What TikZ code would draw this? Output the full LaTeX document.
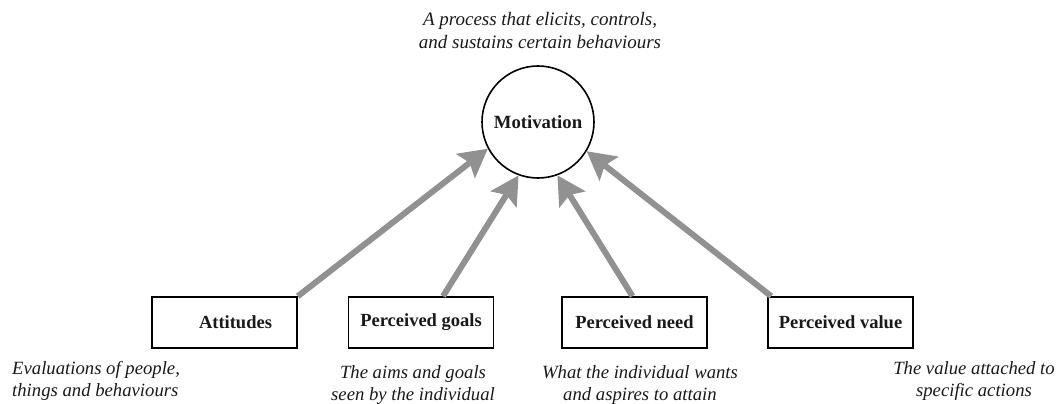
\documentclass[tikz,border=0pt]{standalone}
\usepackage{fontspec}
\setmainfont{Liberation Serif}
\usetikzlibrary{arrows.meta,calc}
\definecolor{arrowgray}{RGB}{145,145,145}
\definecolor{txt}{RGB}{25,25,25}
\begin{document}
\begin{tikzpicture}[x=1pt,y=-1pt,
  box/.style={draw=black,line width=1.6pt,minimum width=145pt,minimum height=51pt,inner sep=0pt,font=\bfseries\fontsize{18.5}{21}\selectfont,text=txt},
  desc/.style={font=\itshape\fontsize{18.7}{22}\selectfont,text=txt,inner sep=0pt},
  infl/.style={draw=arrowgray,line width=6pt,-{Stealth[length=28pt,width=30pt,inset=5pt]}}]
\useasboundingbox (0,0) rectangle (1060,404);
\node[desc,align=center,font=\itshape\fontsize{19}{23}\selectfont] (top) at (540,31) {A process that elicits, controls,\\and sustains certain behaviours};
\node[draw=black,line width=1.6pt,circle,minimum size=112pt,inner sep=0pt,font=\bfseries\fontsize{18.7}{21}\selectfont,text=txt] (mot) at (538,122) {Motivation};
\node[box] (att) at (224.5,322.5) {\hspace*{22pt}Attitudes};
\node[box] (goals) at (421,322.5) {Perceived goals};
\node[box] (need) at (634.5,322.5) {Perceived need};
\node[box] (value) at (840.5,322.5) {Perceived value};
\node[desc,align=left,anchor=west] (attd) at (12,381) {Evaluations of people,\\things and behaviours};
\node[desc,align=center] (goalsd) at (413,385) {The aims and goals\\seen by the individual};
\node[desc,align=center] (needd) at (640,385) {What the individual wants\\and aspires to attain};
\node[desc,align=center] (valued) at (974,381) {The value attached to\\specific actions};
\coordinate (s1) at (att.north east);
\coordinate (s2) at ($(goals.north)+(22,0)$);
\coordinate (s3) at ($(need.north)+(-2,0)$);
\coordinate (s4) at ($(value.north west)+(4,0)$);
\draw[infl] (s1) -- (mot.208);
\draw[infl] (s2) -- (mot.250);
\draw[infl] (s3) -- (mot.290);
\draw[infl] (s4) -- (mot.329);
\end{tikzpicture}
\end{document}
